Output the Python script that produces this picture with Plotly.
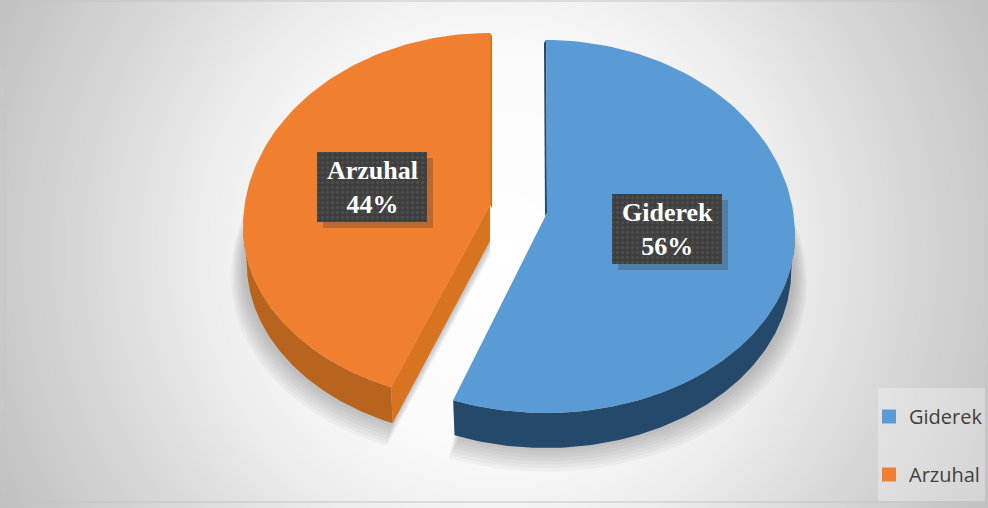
import numpy as np
import plotly.graph_objects as go

# ---- data ----
categories = ["Giderek", "Arzuhal"]
values = [56, 44]
surface_colors = ["#5b9bd5", "#f07f30"]
side_colors = ["#25496b", "#b8641f"]
cut_colors = ["#25496b", "#d8741f"]

W, H = 988, 508
frame = (5, 1, 986, 502)

fractions = np.array(values) / sum(values)
ends = np.cumsum(fractions) * 360
starts = ends - fractions * 360

# exploded slice geometry (apex, ellipse centre, radii, depth, perspective warp of the cut angle)
geo = [
    dict(apex=(547, 213), c=(546, 235), a=249, up=195, down=178, depth=35, warp=0.3),
    dict(apex=(490, 205), c=(490, 227), a=247, up=194, down=175, depth=36, warp=2.0),
]


def arc(g, t0, t1, n=120, scale=1.0, dy=0):
    t = np.radians(np.linspace(t0, t1, n))
    s, c_ = np.sin(t), np.cos(t)
    x = g["c"][0] + g["a"] * scale * s
    b = np.where(c_ >= 0, g["up"], g["down"])
    y = g["c"][1] - b * c_ + dy
    return x, y


def slice_xy(g, t0, t1):
    x, y = arc(g, t0, t1)
    return (np.r_[g["apex"][0], x, g["apex"][0]], np.r_[g["apex"][1], y, g["apex"][1]])


def poly(x, y, color, line=None):
    return go.Scatter(x=x, y=y, mode="lines", fill="toself", fillcolor=color,
                      line=dict(width=0.6 if line else 0, color=line or color),
                      hoverinfo="skip", showlegend=False)


# rendered angular spans: the projected cut sits slightly past its nominal angle
spans = [(s if s == 0 else s + g["warp"], e if e == 360 else e + g["warp"])
         for s, e, g in zip(starts, ends, geo)]

fig = go.Figure()

# background gradient
gx = np.linspace(frame[0], frame[2], 50)
gy = np.linspace(frame[1], frame[3], 26)
XX, YY = np.meshgrid(gx, gy)
RR = np.sqrt(((XX - 495) / 495) ** 2 + (0.5 * (YY - 250) / 250) ** 2)
ZZ = np.interp(RR, [0, 0.4, 0.6, 0.8, 1.0, 1.12], [255, 250, 236, 218, 202, 192])
fig.add_trace(go.Heatmap(x=gx, y=gy, z=ZZ, zmin=190, zmax=255, zsmooth="best", showscale=False,
                         colorscale=[[0, "rgb(190,190,190)"], [1, "rgb(255,255,255)"]], hoverinfo="skip"))

# soft shadows
for g, (t0, t1) in zip(geo, spans):
    for k in range(7):
        sc = 1.0 + 0.008 * k
        gs = dict(g, a=g["a"] * sc, up=g["up"] * sc, down=g["down"] * sc)
        x, y = slice_xy(gs, t0, t1)
        fig.add_trace(poly(x, y + g["depth"] + 3 + 2 * k, "rgba(70,70,80,0.05)"))

# side walls
for g, (t0, t1), col, cut in zip(geo, spans, side_colors, cut_colors):
    lo, hi = max(t0, 90), min(t1, 270)
    x1, y1 = arc(g, lo, hi)
    x2, y2 = arc(g, lo, hi, scale=0.985, dy=g["depth"])
    fig.add_trace(poly(np.r_[x1, x2[::-1]], np.r_[y1, y2[::-1]], col))
    # straight cut face where it faces the viewer
    if 90 < t0 < 270:
        ex, ey = arc(g, t0, t0, n=1)
        ex2, ey2 = arc(g, t0, t0, n=1, scale=0.985, dy=g["depth"])
        ax, ay = g["apex"]
        fx = np.r_[ax, ex[0], ex2[0], ax]
        fy = np.r_[ay, ey[0], ey2[0], ay + g["depth"]]
        fig.add_trace(poly(fx, fy, cut))
    # thin dark strip on the 12 o'clock cut
    ax, ay = g["apex"]
    t12 = 0 if t0 == 0 else 360
    ex, ey = arc(g, t12, t12, n=1)
    sign = -2 if t0 == 0 else 2
    fig.add_trace(poly(np.r_[ax, ex[0], ex[0] + sign, ax + sign], np.r_[ay, ey[0], ey[0] + 3, ay + 3], cut))

# top surfaces
for g, (t0, t1), col in zip(geo, spans, surface_colors):
    x, y = slice_xy(g, t0, t1)
    fig.add_trace(poly(x, y, col))

# data labels
label_pos = [(667, 229), (372, 187)]
BW, BH = 110, 70
for name, val, (lx, ly) in zip(categories, values, label_pos):
    sx = lx + np.array([-BW, BW, BW, -BW, -BW]) / 2
    sy = ly + np.array([-BH, -BH, BH, BH, -BH]) / 2
    fig.add_trace(poly(sx + 6, sy + 6, "rgba(50,50,50,0.28)"))
    fig.add_trace(go.Scatter(x=sx, y=sy, mode="lines", fill="toself", fillcolor="#404040",
                             fillpattern=dict(shape=".", bgcolor="#3f3f3f", fgcolor="#5c5c5c", size=5, solidity=0.3),
                             line=dict(width=0), hoverinfo="skip", showlegend=False))
    fig.add_annotation(x=lx, y=ly, text=f"<b>{name}<br>{val}%</b>", showarrow=False,
                       font=dict(family="Liberation Serif", size=26, color="white"), align="center")

# legend entries
for name, col in zip(categories, surface_colors):
    fig.add_trace(go.Scatter(x=[None], y=[None], mode="markers", name=name, legendgroup=name,
                             marker=dict(symbol="square", size=14, color=col)))

fig.update_layout(
    width=W, height=H, margin=dict(l=0, r=0, t=0, b=0), autosize=False,
    paper_bgcolor="white", plot_bgcolor="white",
    xaxis=dict(range=[0, W], visible=False, fixedrange=True),
    yaxis=dict(range=[H, 0], visible=False, fixedrange=True),
    legend=dict(x=869 / W, y=1 - 397 / H, xanchor="left", yanchor="top", bgcolor="rgba(0,0,0,0)",
                font=dict(family="Open Sans", size=20, color="#404040"), tracegroupgap=29,
                itemwidth=30, traceorder="grouped"),
    shapes=[
        dict(type="rect", xref="x", yref="y", x0=878, x1=985, y0=388, y1=501,
             fillcolor="rgba(255,255,255,0.3)", line=dict(width=0), layer="above"),
        dict(type="rect", xref="x", yref="y", x0=frame[0], x1=frame[2], y0=frame[1], y1=frame[3],
             fillcolor="rgba(0,0,0,0)", line=dict(width=1, color="#c4c4c4"), layer="above"),
    ],
)
fig.write_html("out.html", config={"displayModeBar": False},
               post_script="document.body.style.margin='0';document.documentElement.style.overflow='hidden';")
